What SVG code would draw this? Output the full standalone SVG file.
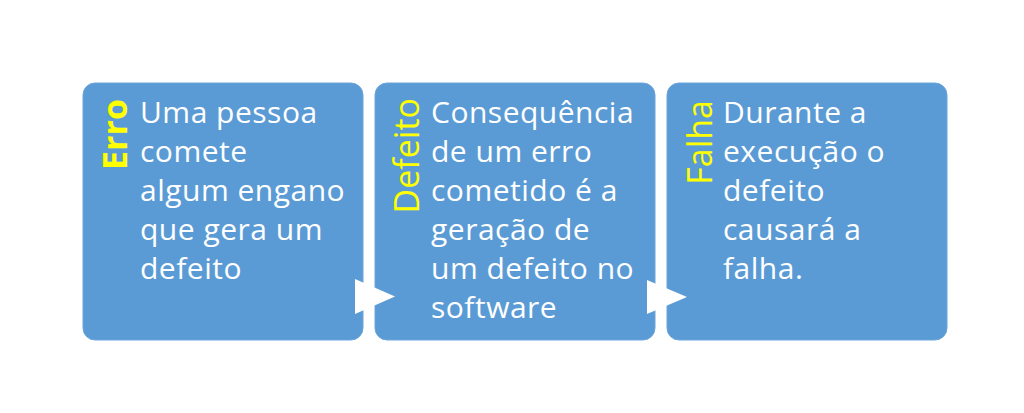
<svg xmlns="http://www.w3.org/2000/svg" width="1024" height="413" viewBox="0 0 1024 413">
<style>
.box{fill:#5B9BD5;stroke:#6AA6DC;stroke-width:1}
.body{font-family:"Open Sans","Noto Sans",sans-serif;font-size:30px;letter-spacing:0.5px;fill:#FFFFFF}
.lbl{font-family:"Open Sans","Noto Sans",sans-serif;font-size:34px;fill:#FFFF00;text-anchor:end}
.arrow{fill:#FFFFFF}
</style>
<rect width="1024" height="413" fill="#FFFFFF"/>
<g id="node-erro">
<rect class="box" x="83" y="83" width="280" height="257" rx="12"/>
<text class="lbl" transform="translate(127,99) rotate(-90)" font-weight="bold" font-size="31">Erro</text>
<text class="body"><tspan x="140" y="123">Uma pessoa</tspan><tspan x="140" y="162">comete</tspan><tspan x="140" y="201">algum engano</tspan><tspan x="140" y="240">que gera um</tspan><tspan x="140" y="279">defeito</tspan></text>
</g>
<g id="node-defeito">
<rect class="box" x="375" y="83" width="280" height="257" rx="12"/>
<text class="lbl" transform="translate(419,98) rotate(-90)">Defeito</text>
<text class="body"><tspan x="431" y="123">Consequência</tspan><tspan x="431" y="162">de um erro</tspan><tspan x="431" y="201">cometido é a</tspan><tspan x="431" y="240">geração de</tspan><tspan x="431" y="279">um defeito no</tspan><tspan x="431" y="318">software</tspan></text>
</g>
<g id="node-falha">
<rect class="box" x="667" y="83" width="280" height="257" rx="12"/>
<text class="lbl" transform="translate(712,100) rotate(-90)" font-size="36">Falha</text>
<text class="body"><tspan x="723" y="123">Durante a</tspan><tspan x="723" y="162">execução o</tspan><tspan x="723" y="201">defeito</tspan><tspan x="723" y="240">causará a</tspan><tspan x="723" y="279">falha.</tspan></text>
</g>
<g id="connectors">
<polygon class="arrow" points="355,279 395,296.5 355,314"/>
<polygon class="arrow" points="647,280 687,297 647,314"/>
</g>
</svg>
